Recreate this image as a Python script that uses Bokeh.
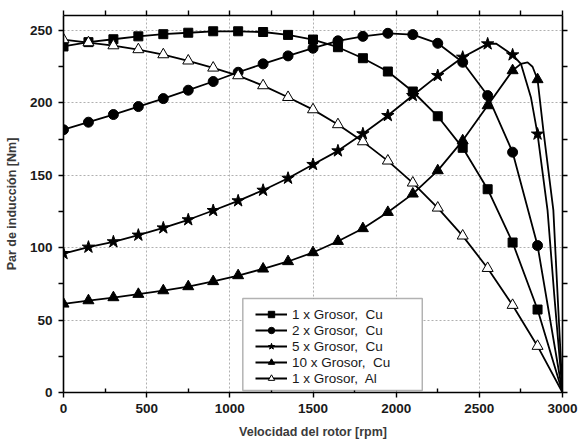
from bokeh.embed import file_html
from bokeh.models import BoxAnnotation, FixedTicker, Legend, LegendItem, LinearAxis
from bokeh.plotting import figure
from bokeh.resources import INLINE

rpm = [0, 150, 300, 450, 600, 750, 900, 1050, 1200, 1350, 1500,
       1650, 1800, 1950, 2100, 2250, 2400, 2550, 2700, 2850, 3000]

cu_1x = [239, 242, 244, 246, 247.5, 248.5, 249.5, 249.5, 249, 247, 243.8,
         238.5, 230.9, 221.7, 207.9, 190.8, 169, 140.4, 103.6, 57.3, 0]
cu_2x = [181.5, 186.7, 192, 197.5, 203, 208.8, 214.8, 221.2, 227, 232.5, 237.8,
         242.9, 246, 248.1, 247.2, 241.2, 228.1, 205.1, 166, 101.5, 0]
cu_5x = [96, 100.4, 104.1, 108.7, 113.7, 119.3, 125.7, 132.4, 139.7, 148, 157.5,
         166.9, 178.7, 191.3, 205.1, 218.9, 231.6, 240.8, 233.2, 178.5, 0]
cu_10x = [61.2, 63.5, 65.6, 67.9, 70.4, 73.2, 76.7, 80.8, 85.4, 90.5, 96.7,
          104.5, 113.3, 124.5, 137.2, 153.3, 174, 198.2, 222.4, 216.2, 0]
al_1x = [243.8, 241.7, 239.6, 236.9, 233.4, 229.1, 224.2, 218.9, 212, 203.9, 195.4,
         185.1, 173.3, 160, 144.8, 127.5, 108.2, 85.8, 60.3, 32, 0]

# extra points (sharp peaks near 3000 rpm)
cu_5x_extra_rpm = [2600, 2750, 2810, 2910, 2950]
cu_5x_extra = [241, 227, 204, 126, 68]
cu_10x_extra_rpm = [2750, 2790, 2820, 2885, 2945, 2975]
cu_10x_extra = [227, 228, 225, 181, 126, 57]

labels = ['1 x Grosor,  Cu', '2 x Grosor,  Cu', '5 x Grosor,  Cu',
          '10 x Grosor,  Cu', '1 x Grosor,  Al']

FONT = 'Liberation Sans'


def curve(xs, ys, ex_x=None, ex_y=None):
    pts = list(zip(xs, ys))
    if ex_x:
        pts += list(zip(ex_x, ex_y))
    pts.sort()
    return [a for a, b in pts], [b for a, b in pts]


p = figure(
    width=583, height=445,
    x_range=(0, 3000), y_range=(0, 260.4),
    toolbar_location=None, output_backend='svg',
    min_border_left=63, min_border_right=21, min_border_top=15, min_border_bottom=53,
)
p.background_fill_color = 'white'
p.border_fill_color = 'white'
p.outline_line_color = None

p.xgrid.ticker = FixedTicker(ticks=list(range(0, 3001, 500)))
p.ygrid.ticker = FixedTicker(ticks=list(range(0, 251, 50)))
p.grid.grid_line_color = '#b0b0b0'
p.grid.grid_line_dash = '2 2'
p.grid.grid_line_width = 1

series = [
    (cu_1x, 'square', 9, 'black', None, None),
    (cu_2x, 'circle', 10, 'black', None, None),
    (cu_5x, 'star', 13, 'black', cu_5x_extra_rpm, cu_5x_extra),
    (cu_10x, 'triangle', 11, 'black', cu_10x_extra_rpm, cu_10x_extra),
    (al_1x, 'triangle', 11, 'white', None, None),
]

items = []
for (vals, marker, size, fill, ex_x, ex_y), label in zip(series, labels):
    lx, ly = curve(rpm, vals, ex_x, ex_y)
    ln = p.line(lx, ly, line_color='black', line_width=1.8)
    sc = p.scatter(rpm[:-1], vals[:-1], marker=marker, size=size,
                   fill_color=fill, line_color='black', line_width=1)
    items.append(LegendItem(label=label, renderers=[ln, sc]))

# axes
for ax in (p.xaxis[0], p.yaxis[0]):
    ax.axis_line_width = 1.6
    ax.major_tick_line_width = 1.4
    ax.minor_tick_line_width = 1.4
    ax.major_tick_out = 5
    ax.major_tick_in = 0
    ax.major_label_text_font = FONT
    ax.major_label_text_font_style = 'bold'
    ax.major_label_text_font_size = '13.5px'
    ax.major_label_text_color = '#1a1a1a'
    ax.major_label_standoff = 6
    ax.axis_label_text_font = FONT
    ax.axis_label_text_font_style = 'bold'
    ax.axis_label_text_font_size = '12.5px'
    ax.axis_label_text_color = '#3a3a3a'

p.xaxis.ticker = FixedTicker(ticks=list(range(0, 3001, 500)), minor_ticks=list(range(250, 3000, 500)))
p.xaxis.minor_tick_in = 4
p.xaxis.minor_tick_out = 0
p.xaxis.axis_label = 'Velocidad del rotor [rpm]'
p.xaxis.axis_label_standoff = 9

p.yaxis.ticker = FixedTicker(ticks=list(range(0, 251, 50)), minor_ticks=list(range(25, 260, 50)))
p.yaxis.minor_tick_in = 0
p.yaxis.minor_tick_out = 5
p.yaxis.axis_label = 'Par de inducción [Nm]'
p.yaxis.axis_label_standoff = 8

top_ticks = list(range(0, 3001, 250))
right_ticks = list(range(0, 251, 25))
top = LinearAxis(ticker=FixedTicker(ticks=top_ticks),
                 major_label_overrides={t: '' for t in top_ticks})
right = LinearAxis(ticker=FixedTicker(ticks=right_ticks),
                   major_label_overrides={t: '' for t in right_ticks})
for ax in (top, right):
    ax.axis_line_width = 1.6
    ax.major_tick_line_width = 1.4
    ax.major_tick_out = 5
    ax.major_tick_in = 0
    ax.minor_tick_line_color = None
    ax.major_label_standoff = 0
p.add_layout(top, 'above')
p.add_layout(right, 'right')

# legend frame (wider than the entries, as in the original)
box = BoxAnnotation(left=1078, right=2157, bottom=1.4, top=64.9,
                    fill_color='white', fill_alpha=1,
                    line_color='black', line_width=1.5)
p.add_layout(box)

legend = Legend(items=items, location=(192, 6))
legend.border_line_color = None
legend.background_fill_color = 'white'
legend.background_fill_alpha = 0
legend.label_text_font = FONT
legend.label_text_font_size = '13.5px'
legend.label_text_color = '#1a1a1a'
legend.label_standoff = 5
legend.glyph_width = 32
legend.glyph_height = 16
legend.label_height = 16
legend.spacing = 0
legend.padding = 4
legend.margin = 0
p.add_layout(legend, 'center')

open("out.html", "w").write(file_html(p, INLINE))
